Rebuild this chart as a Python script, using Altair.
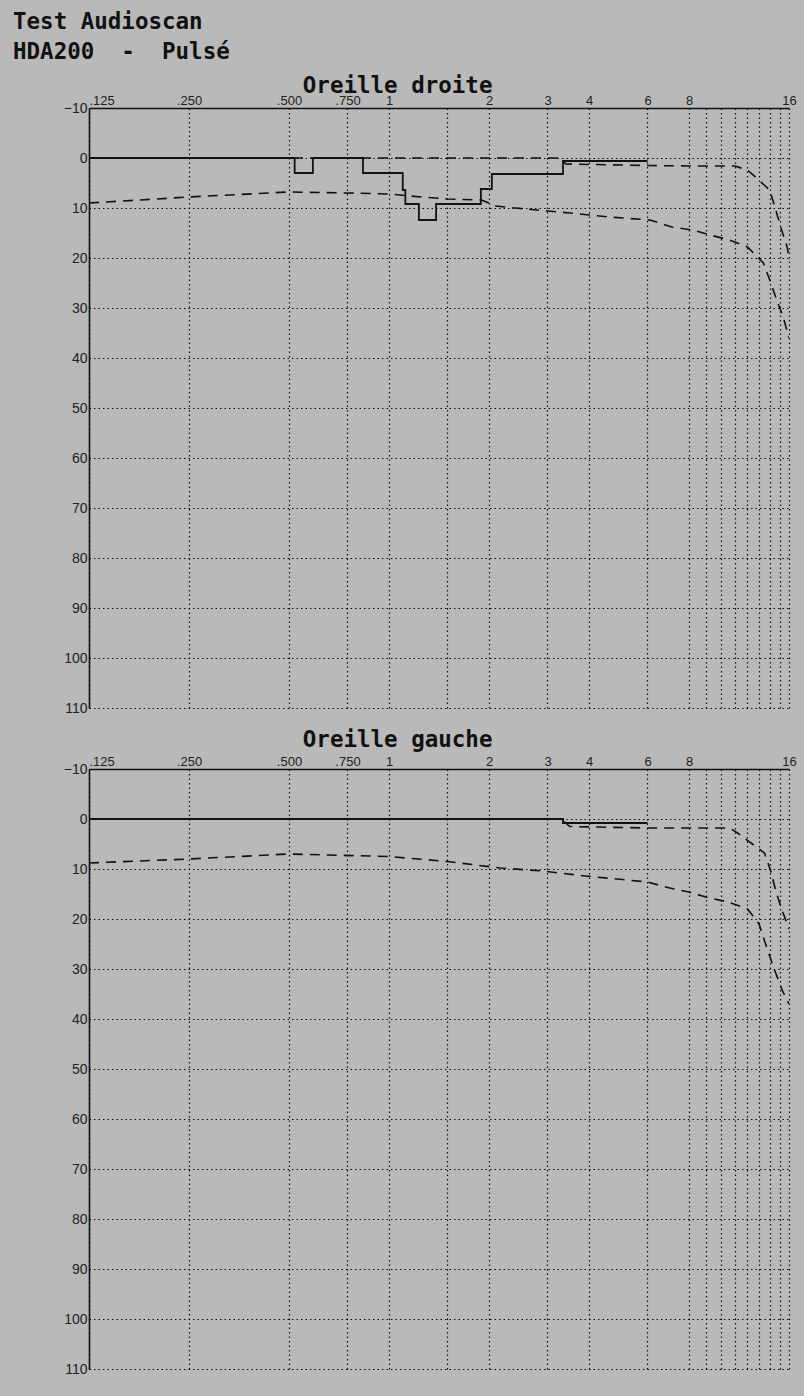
import altair as alt
import pandas as pd

# ---------------- data ----------------
X_GRID = [0.125, 0.25, 0.5, 0.75, 1, 1.5, 2, 3, 4, 6, 8, 9, 10, 11, 12, 13, 14, 15, 16]
X_LABEL_VALUES = [0.125, 0.25, 0.5, 0.75, 1, 2, 3, 4, 6, 8, 16]
X_LABEL_TEXT = [".125", ".250", ".500", ".750", "1", "2", "3", "4", "6", "8", "16"]
Y_TICKS = [-10, 0, 10, 20, 30, 40, 50, 60, 70, 80, 90, 100, 110]

# right ear (Oreille droite)
R_SOLID_F = [0.125, 0.52, 0.59, 0.835, 1.1, 1.12, 1.23, 1.386, 1.89, 2.04, 3.34, 6.0]
R_SOLID_DB = [0, 3, 0, 3, 6.4, 9.2, 12.4, 9.2, 6.2, 3.2, 0.6, 0.6]
R_UP_F = [0.125, 3.3, 3.4, 6, 8, 11, 12, 14, 14.6, 15.2, 15.8, 16]
R_UP_DB = [0, 0, 1.2, 1.5, 1.6, 1.6, 2.4, 6.4, 10.4, 14.4, 17.8, 20]
R_LO_F = [0.125, 0.25, 0.5, 0.75, 1, 1.25, 1.5, 1.9, 2.1, 2.4, 3, 3.5, 4, 4.6,
          6.1, 7.1, 8.2, 9.25, 10.6, 12, 13.4, 14, 14.7, 15.4, 16]
R_LO_DB = [9, 7.8, 6.8, 7, 7.2, 7.8, 8.2, 8.4, 9.6, 10, 10.6, 11, 11.4, 11.8,
           12.4, 13.8, 14.4, 15.4, 16.4, 17.8, 21, 24.4, 28.4, 32, 36]

# left ear (Oreille gauche)
L_SOLID_F = [0.125, 3.34, 6.0]
L_SOLID_DB = [0, 0.8, 0.8]
L_UP_F = [0.125, 3.3, 3.5, 6, 10.6, 11.2, 13.5, 14.1, 14.6, 15.2, 16]
L_UP_DB = [0, 0, 1.5, 1.8, 1.8, 2.8, 6.8, 10.4, 14.4, 18, 22]
L_LO_F = [0.125, 0.25, 0.5, 1, 1.5, 2.16, 2.9, 3.9, 5.2, 6, 7, 8, 9.2, 10.5,
          12, 13, 13.6, 14.4, 15.3, 16]
L_LO_DB = [8.8, 8, 7, 7.5, 8.5, 9.8, 10.4, 11.4, 12.2, 12.6, 13.8, 14.6, 15.8,
           16.6, 18, 21, 25, 29.8, 34.4, 37]

# ---------------- helpers ----------------
label_expr = "''"
for v, t in zip(X_LABEL_VALUES, X_LABEL_TEXT):
    label_expr = f"(abs(datum.value - {v}) < 1e-6) ? '{t}' : ({label_expr})"
align_expr = "abs(datum.value - 0.125) < 1e-6 ? 'left' : 'center'"

MONO = "DejaVu Sans Mono"
SANS = "Liberation Sans"


def panel(title, title_offset, sf, sdb, uf, udb, lf, ldb):
    solid = pd.DataFrame({"f": sf, "db": sdb})
    dashed = pd.concat([
        pd.DataFrame({"f": uf, "db": udb, "s": "up"}),
        pd.DataFrame({"f": lf, "db": ldb, "s": "lo"}),
    ])
    x = alt.X("f:Q",
              scale=alt.Scale(type="log", domain=[0.125, 16], nice=False),
              axis=alt.Axis(orient="top", values=X_GRID, labelExpr=label_expr,
                            labelAlign=alt.ExprRef(align_expr),
                            grid=True, gridDash=[1.5, 3], gridColor="#111",
                            gridWidth=1.2, ticks=False, domain=True,
                            domainColor="#111", domainWidth=1.6,
                            labelOverlap=False, labelBound=False, labelFlush=False,
                            labelFont=SANS, labelFontSize=13, labelColor="#222",
                            labelPadding=1, title=None))
    y = alt.Y("db:Q",
              scale=alt.Scale(domain=[-10, 110], reverse=True, nice=False, zero=False),
              axis=alt.Axis(orient="left", values=Y_TICKS, grid=True,
                            gridDash=[1.5, 3], gridColor="#111", gridWidth=1.2,
                            ticks=False, domain=True, domainColor="#111",
                            domainWidth=1.6, labelFont=SANS, labelFontSize=14,
                            labelColor="#222", labelPadding=2, labelOverlap=False,
                            minExtent=76, maxExtent=76, title=None))
    dash_layer = alt.Chart(dashed).mark_line(
        color="#111", strokeWidth=1.6, strokeDash=[10, 7], clip=True
    ).encode(x=x, y=y, detail="s:N")
    solid_layer = alt.Chart(solid).mark_line(
        color="#111", strokeWidth=1.8, interpolate="step-after", clip=True
    ).encode(x="f:Q", y="db:Q")
    return alt.layer(dash_layer, solid_layer).properties(
        width=700, height=600,
        title=alt.TitleParams(title, font=MONO, fontWeight="bold", fontSize=22.5,
                              color="#111", anchor="middle", dx=-7,
                              offset=title_offset),
    )


top = panel("Oreille droite", -3, R_SOLID_F, R_SOLID_DB, R_UP_F, R_UP_DB, R_LO_F, R_LO_DB)
bottom = panel("Oreille gauche", 4, L_SOLID_F, L_SOLID_DB, L_UP_F, L_UP_DB, L_LO_F, L_LO_DB)

chart = alt.vconcat(top, bottom, spacing=13).properties(
    title=alt.TitleParams(["Test Audioscan", "HDA200\u00a0\u00a0-\u00a0\u00a0Pulsé"],
                          font=MONO, fontWeight="bold", fontSize=22.5, color="#111",
                          anchor="start", lineHeight=30, offset=11),
    padding={"left": 13, "top": 11, "right": 7, "bottom": 20},
    background="#b9b9b9",
).configure_view(stroke=None).configure_title(frame="bounds")

chart.save("out.html", embed_options={"renderer": "svg", "actions": False})
